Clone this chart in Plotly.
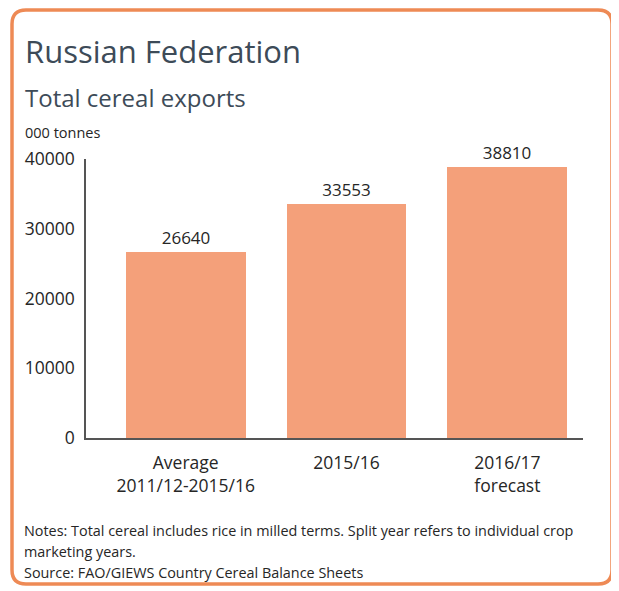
import plotly.graph_objects as go

categories = ["Average<br>2011/12-2015/16", "2015/16", "2016/17<br>forecast"]
values = [26640, 33553, 38810]
value_labels = ["26640", "33553", "38810"]
y_ticks = [0, 10000, 20000, 30000, 40000]
y_tick_labels = ["0", "10000", "20000", "30000", "40000"]

# page body has an 8px default margin: work in page coordinates, shift by OFF
OFF = 8
W, H = 619 - OFF, 591 - OFF
L, R, T, B = 86 - OFF, 583 - OFF, 159 - OFF, 438 - OFF
PW, PH = R - L, B - T


def px(x):
    return (x - OFF - L) / PW


def py(y):
    return (B - (y - OFF)) / PH


FONT = "Open Sans"
TXT = "#262626"
HEAD = "#3d4b58"

fig = go.Figure()
fig.add_trace(go.Bar(
    x=[0, 1, 2], y=values, width=0.745,
    marker=dict(color="#F4A07A", line=dict(width=0)),
    text=value_labels, textposition="outside",
    textfont=dict(family=FONT, size=17, color=TXT),
    cliponaxis=False, hoverinfo="skip",
))

# rounded border (page coordinates)
x0, x1, y0, y1, r = 12, 612, 10, 584, 14
def P(x, y):
    return f"{px(x):.5f},{py(y):.5f}"
path = (f"M {P(x0 + r, y0)} L {P(x1 - r, y0)} Q {P(x1, y0)} {P(x1, y0 + r)} "
        f"L {P(x1, y1 - r)} Q {P(x1, y1)} {P(x1 - r, y1)} "
        f"L {P(x0 + r, y1)} Q {P(x0, y1)} {P(x0, y1 - r)} "
        f"L {P(x0, y0 + r)} Q {P(x0, y0)} {P(x0 + r, y0)} Z")
fig.add_shape(type="path", path=path, xref="paper", yref="paper",
              line=dict(color="#EE8A55", width=3.5), layer="below")

annots = [
    ("Russian Federation", 23, 51, 31, HEAD),
    ("Total cereal exports", 23, 97.5, 24, HEAD),
    ("000 tonnes", 23, 132, 14.5, TXT),
    ("Notes: Total cereal includes rice in milled terms. Split year refers to individual crop", 22, 530, 14.4, TXT),
    ("marketing years.", 22, 551, 14.4, TXT),
    ("Source: FAO/GIEWS Country Cereal Balance Sheets", 22, 572, 14.4, TXT),
]
for text, x, y, size, col in annots:
    fig.add_annotation(text=text, x=px(x), y=py(y), xref="paper", yref="paper",
                       xanchor="left", yanchor="middle", showarrow=False,
                       font=dict(family=FONT, size=size, color=col))

fig.update_layout(
    width=W, height=H,
    margin=dict(l=L, r=W - R, t=T, b=H - B),
    paper_bgcolor="white", plot_bgcolor="white",
    showlegend=False, bargap=0,
    xaxis=dict(range=[-0.62, 2.47], tickvals=[0, 1, 2], ticktext=categories,
               showline=True, linecolor="#555555", linewidth=1.5,
               showgrid=False, zeroline=False, ticks="",
               tickfont=dict(family=FONT, size=17.5, color=TXT), ticklabelstandoff=8),
    yaxis=dict(range=[0, 40000], tickvals=y_ticks, ticktext=y_tick_labels,
               showline=True, linecolor="#555555", linewidth=1.5,
               showgrid=False, zeroline=False, ticks="",
               tickfont=dict(family=FONT, size=17.5, color=TXT), ticklabelstandoff=6),
)

fig.write_html("out.html")
